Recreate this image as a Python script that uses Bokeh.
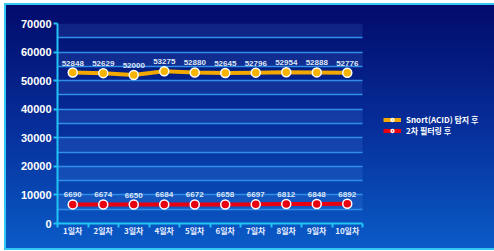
from bokeh.plotting import figure
from bokeh.models import (FixedTicker, Legend, LegendItem, ColumnDataSource, Range1d)
from bokeh.core.properties import value
from bokeh.embed import file_html
from bokeh.resources import INLINE

# ---- data ----
days = ["1일차", "2일차", "3일차", "4일차", "5일차", "6일차", "7일차", "8일차", "9일차", "10일차"]
snort = [52848, 52629, 52000, 53275, 52880, 52645, 52796, 52954, 52888, 52776]
filtered = [6690, 6674, 6650, 6684, 6672, 6658, 6697, 6812, 6848, 6892]
series_names = ["Snort(ACID) 탐지 후", "2차 필터링 후"]
y_ticks = [0, 10000, 20000, 30000, 40000, 50000, 60000, 70000]
grid_ticks = list(range(-5000, 70001, 5000))

xs = list(range(1, len(days) + 1))
src1 = ColumnDataSource(dict(x=xs, y=snort, t=[str(v) for v in snort]))
src2 = ColumnDataSource(dict(x=xs, y=filtered, t=[str(v) for v in filtered]))

W, H = 490, 247
left_b, right_b = 53, 0
frame_w = W - left_b - right_b
cat_px = 305.0  # pixel width used by the categories
x_lo, x_hi = 0.5, len(days) + 0.5
x_end = x_lo + (x_hi - x_lo) * frame_w / cat_px

p = figure(width=W, height=H, output_backend="svg", toolbar_location=None,
           x_range=Range1d(x_lo, x_end), y_range=Range1d(0, 70000),
           min_border_left=left_b, min_border_right=right_b, min_border_top=20, min_border_bottom=27)
p.styles = {"position": "relative", "left": "4px", "top": "3px",
            "background": "linear-gradient(180deg, #020a6a 0%, #062e9a 50%, #0a5cc8 100%)",
            "box-shadow": "inset 2px 2px 0 #33c8f4, inset 0 -2px 0 #33c8f4"}
p.border_fill_alpha = 0
p.background_fill_alpha = 0
p.outline_line_color = None

# grid
p.xgrid.grid_line_color = None
p.ygrid.ticker = FixedTicker(ticks=grid_ticks)
p.ygrid.cross_bounds = (x_lo, x_hi)
p.ygrid.grid_line_color = "#2e8ee8"
p.ygrid.grid_line_width = 1.3
p.ygrid.band_fill_color = "#6fa8ff"
p.ygrid.band_fill_alpha = 0.13

# axes
axcol = "#22c4f6"
p.yaxis.ticker = FixedTicker(ticks=y_ticks)
p.yaxis.axis_line_color = axcol
p.yaxis.axis_line_width = 2
p.yaxis.major_tick_line_color = axcol
p.yaxis.major_tick_line_width = 2
p.yaxis.major_tick_out = 4
p.yaxis.major_tick_in = 0
p.yaxis.minor_tick_line_color = None
p.yaxis.major_label_text_color = "white"
p.yaxis.major_label_text_font = "Liberation Sans"
p.yaxis.major_label_text_font_style = "bold"
p.yaxis.major_label_text_font_size = "11px"
p.yaxis.major_label_standoff = 2

p.xaxis.bounds = (x_lo, x_hi)
p.xaxis.ticker = FixedTicker(ticks=xs, minor_ticks=[i + 0.5 for i in range(len(days) + 1)])
p.xaxis.major_label_overrides = {x: d for x, d in zip(xs, days)}
p.xaxis.axis_line_color = axcol
p.xaxis.axis_line_width = 2
p.xaxis.major_tick_line_color = None
p.xaxis.minor_tick_line_color = axcol
p.xaxis.minor_tick_line_width = 2
p.xaxis.minor_tick_out = 4
p.xaxis.minor_tick_in = 0
p.xaxis.major_label_text_color = "#e8eeff"
p.xaxis.major_label_text_font = "Noto Sans CJK KR"
p.xaxis.major_label_text_font_style = "bold"
p.xaxis.major_label_text_font_size = "8px"
p.xaxis.major_label_standoff = -5

# series
l1 = p.line("x", "y", source=src1, line_color="#f2a800", line_width=4)
c1 = p.scatter("x", "y", source=src1, size=9, fill_color="#f8b400", line_color="white", line_width=1.5)
l2 = p.line("x", "y", source=src2, line_color="#e80010", line_width=4)
c2 = p.scatter("x", "y", source=src2, size=9, fill_color="#e80010", line_color="white", line_width=1.5)

for s in (src1, src2):
    p.text("x", "y", text="t", source=s, y_offset=-7, text_align="center", text_baseline="bottom",
           text_font=value("Liberation Sans"), text_font_size="8px", text_font_style="bold",
           text_color="#dde6f8")

legend = Legend(items=[LegendItem(label=series_names[0], renderers=[l1, c1]),
                       LegendItem(label=series_names[1], renderers=[l2, c2])],
                location=(326, 87), orientation="vertical",
                glyph_width=18, glyph_height=7, label_height=7, spacing=0, padding=0, margin=0,
                label_standoff=5, label_text_font_size="8px", label_text_font_style="bold",
                label_text_font="Noto Sans CJK KR", label_text_color="white",
                background_fill_alpha=0, border_line_alpha=0)
p.add_layout(legend)

open("out.html", "w").write(file_html(p, INLINE))
